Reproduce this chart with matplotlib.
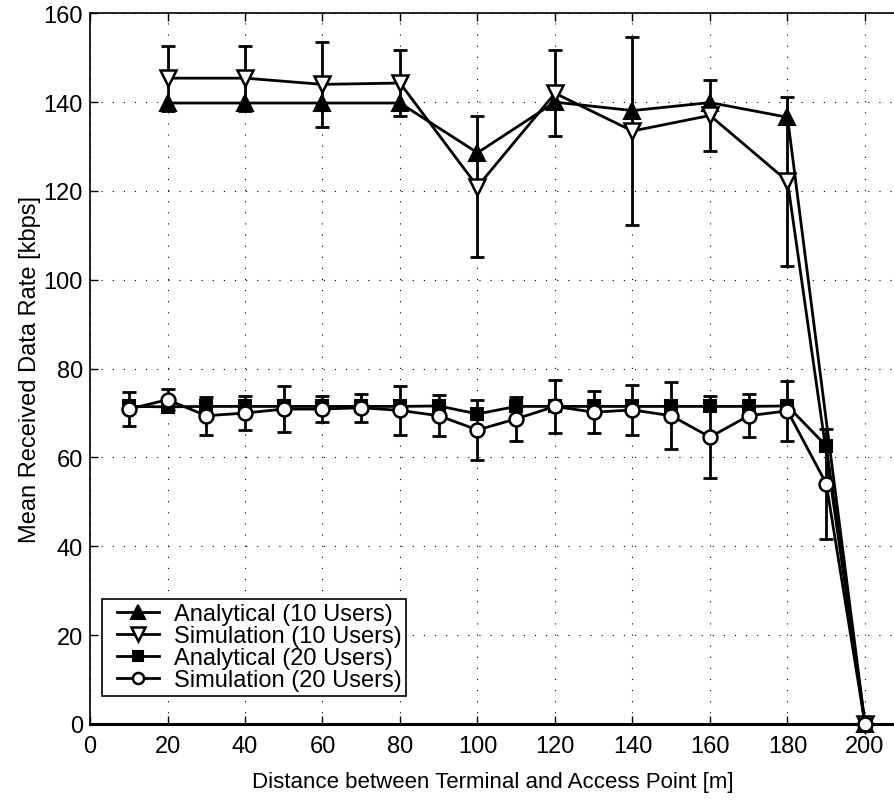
import matplotlib
matplotlib.use('Agg')
import matplotlib.pyplot as plt
from matplotlib.lines import Line2D
from matplotlib.legend_handler import HandlerLine2D

plt.rcParams['font.family'] = ['Liberation Sans', 'DejaVu Sans']

# 10 users: analytical and simulation (mean, half-width of error bar)
dist_10 = [20, 40, 60, 80, 100, 120, 140, 160, 180, 200]
ana_10 = [139.8, 139.8, 139.8, 139.8, 128.6, 140.0, 138.1, 139.9, 136.6, 0]
sim_10 = [145.4, 145.4, 144.0, 144.3, 121.0, 142.0, 133.5, 137.0, 122.2, 0]
sim_10_err = [7.3, 7.3, 9.5, 7.4, 15.8, 9.7, 21.2, 7.9, 19.0, 0]

# 20 users
dist_20 = [10, 20, 30, 40, 50, 60, 70, 80, 90, 100,
           110, 120, 130, 140, 150, 160, 170, 180, 190, 200]
ana_20 = [71.5, 71.4, 71.5, 71.5, 71.5, 71.5, 71.5, 71.5, 71.6, 69.8,
          71.5, 71.5, 71.5, 71.5, 71.5, 71.5, 71.5, 71.6, 62.6, 0]
sim_20 = [70.9, 73.0, 69.4, 70.0, 70.9, 70.9, 71.2, 70.6, 69.4, 66.2,
          68.7, 71.5, 70.2, 70.7, 69.4, 64.6, 69.4, 70.5, 54.1, 0]
sim_20_err = [3.9, 2.4, 4.3, 3.9, 5.1, 2.9, 3.2, 5.5, 4.6, 6.7,
              5.0, 6.0, 4.7, 5.6, 7.5, 9.2, 4.9, 6.7, 12.4, 0]

fig = plt.figure(figsize=(8.95, 8.03), dpi=100)
ax = fig.add_axes([90 / 895, 1 - 725 / 803, 1 - 90 / 895, (725 - 14.3) / 803])

lw = 2.0
# error bars first (no markers), then lines with markers
ax.errorbar(dist_10, sim_10, yerr=sim_10_err, fmt='none', ecolor='black',
            elinewidth=2, capsize=5, capthick=2, zorder=2)
ax.errorbar(dist_20, sim_20, yerr=sim_20_err, fmt='none', ecolor='black',
            elinewidth=2, capsize=5, capthick=2, zorder=2)

h1, = ax.plot(dist_10, ana_10, color='black', lw=lw, marker='^', ms=12,
              mfc='black', mec='black', mew=1.5, label='Analytical (10 Users)',
              zorder=3, clip_on=False)
h2, = ax.plot(dist_10, sim_10, color='black', lw=lw, marker='v', ms=12,
              mfc='white', mec='black', mew=1.8, label='Simulation (10 Users)',
              zorder=4, clip_on=False)
h3, = ax.plot(dist_20, ana_20, color='black', lw=lw, marker='s', ms=9,
              mfc='black', mec='black', mew=1.5, label='Analytical (20 Users)',
              zorder=3, clip_on=False)
h4, = ax.plot(dist_20, sim_20, color='black', lw=lw, marker='o', ms=10,
              mfc='white', mec='black', mew=1.8, label='Simulation (20 Users)',
              zorder=4, clip_on=False)

ax.set_xlim(0, 200 * (895 - 90) / (865 - 90))
ax.set_ylim(0, 160)
ax.set_xticks(range(0, 201, 20))
ax.set_yticks(range(0, 161, 20))
ax.tick_params(direction='in', labelsize=17, length=6, top=True, width=1)
ax.tick_params(axis='x', pad=8)
ax.tick_params(axis='y', pad=5)
ax.spines['right'].set_visible(False)
for s in ['left', 'top']:
    ax.spines[s].set_linewidth(1.2)
ax.spines['bottom'].set_linewidth(2.2)
ax.grid(True, color='black', linestyle=(0, (1, 9)), linewidth=0.8)

ax.set_xlabel('Distance between Terminal and Access Point [m]', fontsize=16, labelpad=10)
ax.set_ylabel('Mean Received Data Rate [kbps]', fontsize=17, labelpad=2)

leg = ax.legend(handles=[h1, h2, h3, h4], loc='lower left',
                bbox_to_anchor=((102 - 90) / 805, (725 - 697) / 710.7), fontsize=17,
                frameon=True, fancybox=False, edgecolor='black', framealpha=1,
                handlelength=2.2, handletextpad=0.64, borderpad=0.2,
                labelspacing=0.0, borderaxespad=0, markerscale=0.8,
                handler_map={Line2D: HandlerLine2D(xpad=0.45)})
leg.get_frame().set_linewidth(1.2)

fig.savefig('out.png', dpi=100)
